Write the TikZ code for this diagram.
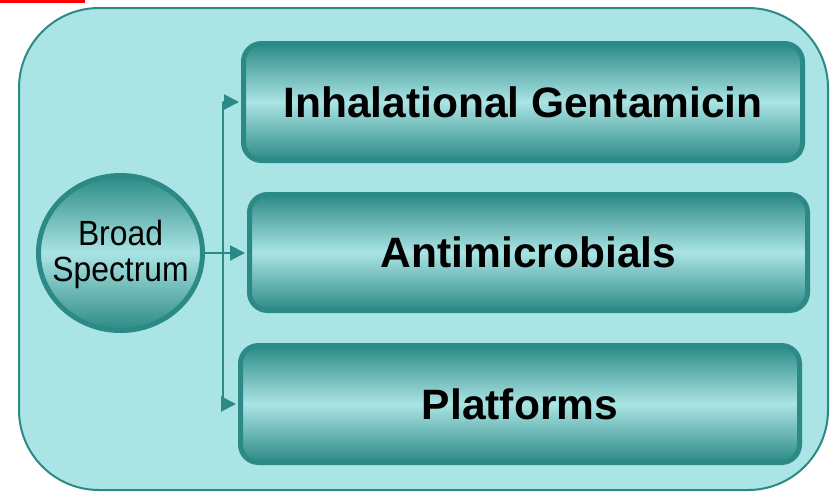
\documentclass[tikz,border=0pt]{standalone}
\usepackage{fontspec}
\setmainfont{Liberation Sans}
\newfontfamily\narrowsans[FakeStretch=0.91]{Liberation Sans}
\usetikzlibrary{arrows.meta,shapes.geometric}
\definecolor{bgteal}{HTML}{AAE4E4}
\definecolor{darkteal}{HTML}{2B8A85}
\definecolor{lightteal}{HTML}{AAE4E4}
\definecolor{redbar}{HTML}{FF0000}
\tikzset{
  panel/.style={draw=darkteal, line width=2pt, fill=bgteal, rounded corners=80pt},
  topicbox/.style={draw=darkteal, line width=5pt, rounded corners=18pt,
    top color=darkteal, bottom color=darkteal, middle color=lightteal,
    minimum width=559pt, minimum height=117pt, inner sep=0pt,
    font=\fontsize{42.5}{48}\selectfont\bfseries},
  hubnode/.style={ellipse, draw=darkteal, line width=5pt,
    top color=darkteal, bottom color=darkteal, middle color=lightteal,
    minimum width=164pt, minimum height=155pt, inner sep=0pt},
  hubtext/.style={align=center, inner sep=0pt,
    font=\narrowsans\fontsize{35}{36}\selectfont},
  link/.style={draw=darkteal, line width=2pt},
  arrowlink/.style={link, -{Triangle[length=15pt,width=15pt]}, shorten >=2pt}
}
\begin{document}
\begin{tikzpicture}[x=1pt,y=-1pt]
\useasboundingbox (0,0) rectangle (834,491);
\fill[redbar] (0,0) rectangle (85,2.5);
\draw[panel] (19,8) rectangle (828,490);
\node[topicbox] (box1) at (523,102) {Inhalational Gentamicin};
\node[topicbox, minimum width=558pt, minimum height=116pt] (box2) at (528.5,252.5) {Antimicrobials};
\node[topicbox] (box3) at (520,404) {Platforms};
\node[hubnode] (hub) at (120.5,253) {};
\node[hubtext] (hublabel) at (120.5,254) {Broad\\Spectrum};
\coordinate (jt) at (223,102);
\coordinate (jb) at (223,404);
\draw[link] (jt) -- (jb);
\draw[arrowlink] (hub.east) -- (hub.east -| box2.west);
\draw[arrowlink] (jt) -- (box1.west);
\draw[arrowlink] (jb) -- (box3.west);
\end{tikzpicture}
\end{document}
